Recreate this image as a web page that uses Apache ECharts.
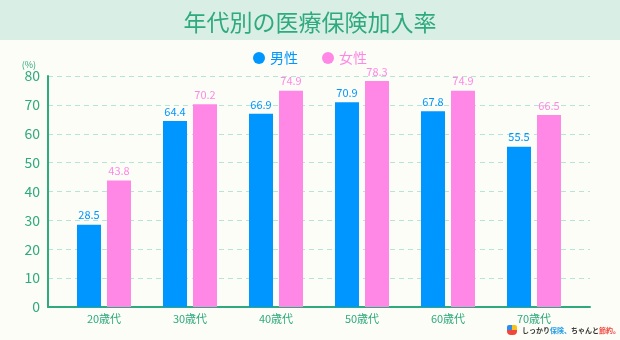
<!DOCTYPE html>
<html>
<head>
<meta charset="utf-8">
<script src="https://cdn.jsdelivr.net/npm/echarts@6/dist/echarts.min.js"></script>
<style>
  html, body { margin: 0; padding: 0; background: #fdfdf7; }
  #chart { width: 620px; height: 340px; }
</style>
</head>
<body>
<div id="chart"></div>
<script>
var categories = ["20歳代", "30歳代", "40歳代", "50歳代", "60歳代", "70歳代"];
var male = [28.5, 64.4, 66.9, 70.9, 67.8, 55.5];
var female = [43.8, 70.2, 74.9, 78.3, 74.9, 66.5];
var yTicks = [0, 10, 20, 30, 40, 50, 60, 70, 80];

var green = "#2eaa7e";
var blue = "#0096ff";
var pink = "#ff88e6";
var font = "'Noto Sans CJK JP', sans-serif";

var chartDom = document.getElementById("chart");
var myChart = echarts.init(chartDom);

var option = {
  backgroundColor: "#fdfdf7",
  textStyle: { fontFamily: font },
  animation: false,
  title: {
    text: "年代別の医療保険加入率",
    left: "center",
    top: 6,
    textStyle: { color: green, fontSize: 23, fontWeight: "normal", fontFamily: font },
  },
  legend: {
    top: 46,
    left: "center",
    icon: "circle",
    itemWidth: 12,
    itemHeight: 12,
    itemGap: 24,
    textStyle: { fontSize: 14, fontFamily: font },
    data: [
      { name: "男性", textStyle: { color: blue } },
      { name: "女性", textStyle: { color: pink } },
    ],
  },
  graphic: [
    {
      type: "rect",
      z: -10,
      shape: { x: 0, y: 0, width: 620, height: 40 },
      style: { fill: "#d9efe6" },
    },
    { type: "rect", shape: { x: 507, y: 325, width: 5, height: 5, r: [2, 0, 0, 0] }, style: { fill: "#2c8cf0" } },
    { type: "rect", shape: { x: 512, y: 325, width: 5, height: 5, r: [0, 2, 0, 0] }, style: { fill: "#f5c21b" } },
    { type: "rect", shape: { x: 507, y: 330, width: 10, height: 5, r: [0, 0, 4, 4] }, style: { fill: "#f0463c" } },
    {
      type: "text",
      x: 522,
      y: 327,
      style: {
        text: "{d|しっかり}{b|保険、}{d|ちゃんと}{r|節約。}",
        rich: {
          d: { fill: "#333", fontSize: 7, fontWeight: "bold", fontFamily: font },
          b: { fill: "#2aa0e6", fontSize: 7, fontWeight: "bold", fontFamily: font },
          r: { fill: "#f0463c", fontSize: 7, fontWeight: "bold", fontFamily: font },
        },
      },
    },
  ],
  grid: [
    { left: 48, right: 30, top: 76, bottom: 33 },
    { left: 61, right: 43, top: 76, bottom: 33 },
  ],
  xAxis: [
    {
      type: "category",
      gridIndex: 0,
      data: categories,
      axisLine: { show: true, lineStyle: { color: green, width: 2 } },
      axisTick: { show: false },
      axisLabel: { show: false },
    },
    {
      type: "category",
      gridIndex: 1,
      data: categories,
      axisLine: { show: false },
      axisTick: { show: false },
      axisLabel: { color: green, fontSize: 11, margin: 6, fontFamily: font },
    },
  ],
  yAxis: [
    {
      type: "value",
      gridIndex: 0,
      min: yTicks[0],
      max: yTicks[yTicks.length - 1],
      interval: 10,
      name: "(%)",
      nameLocation: "end",
      nameGap: 6,
      nameTextStyle: { color: green, fontSize: 9, align: "right", padding: [0, 12, 0, 0] },
      axisLine: { show: true, lineStyle: { color: green, width: 2 } },
      axisTick: { show: false },
      axisLabel: { color: green, fontSize: 14, margin: 8, fontFamily: font },
      splitLine: { show: true, lineStyle: { color: "#b7e4d9", type: [5, 4], width: 1 } },
    },
    {
      type: "value",
      gridIndex: 1,
      min: 0,
      max: 80,
      interval: 10,
      show: false,
      splitLine: { show: false },
    },
  ],
  series: [
    {
      name: "男性",
      type: "bar",
      xAxisIndex: 1,
      yAxisIndex: 1,
      data: male,
      barWidth: 24,
      barGap: "25%",
      itemStyle: { color: blue },
      label: { show: true, position: "top", color: blue, fontSize: 11, distance: 4 },
    },
    {
      name: "女性",
      type: "bar",
      xAxisIndex: 1,
      yAxisIndex: 1,
      data: female,
      barWidth: 24,
      itemStyle: { color: pink },
      label: { show: true, position: "top", color: pink, fontSize: 11, distance: 4 },
    },
  ],
};

myChart.setOption(option);
</script>
</body>
</html>
